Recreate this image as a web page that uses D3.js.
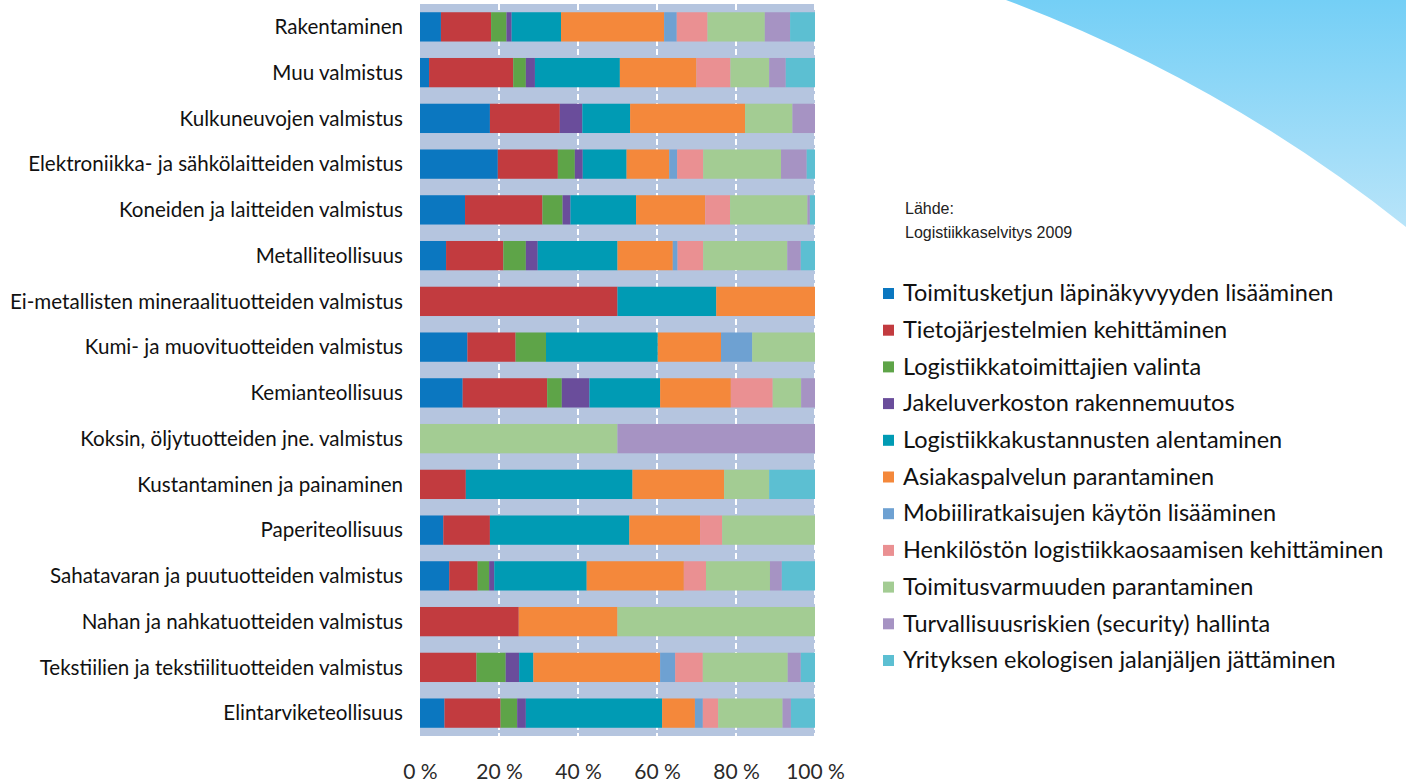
<!DOCTYPE html>
<html>
<head>
<meta charset="utf-8">
<script src="https://cdn.jsdelivr.net/npm/d3@7"></script>
<style>
  body { margin: 0; background: #fff; }
  svg { display: block; }
</style>
</head>
<body>
<div id="chart"></div>
<script>
(function() {

    var categories = [
        "Rakentaminen",
        "Muu valmistus",
        "Kulkuneuvojen valmistus",
        "Elektroniikka- ja sähkölaitteiden valmistus",
        "Koneiden ja laitteiden valmistus",
        "Metalliteollisuus",
        "Ei-metallisten mineraalituotteiden valmistus",
        "Kumi- ja muovituotteiden valmistus",
        "Kemianteollisuus",
        "Koksin, öljytuotteiden jne. valmistus",
        "Kustantaminen ja painaminen",
        "Paperiteollisuus",
        "Sahatavaran ja puutuotteiden valmistus",
        "Nahan ja nahkatuotteiden valmistus",
        "Tekstiilien ja tekstiilituotteiden valmistus",
        "Elintarviketeollisuus"
    ];

    var seriesNames = [
        "Toimitusketjun läpinäkyvyyden lisääminen",
        "Tietojärjestelmien kehittäminen",
        "Logistiikkatoimittajien valinta",
        "Jakeluverkoston rakennemuutos",
        "Logistiikkakustannusten alentaminen",
        "Asiakaspalvelun parantaminen",
        "Mobiiliratkaisujen käytön lisääminen",
        "Henkilöstön logistiikkaosaamisen kehittäminen",
        "Toimitusvarmuuden parantaminen",
        "Turvallisuusriskien (security) hallinta",
        "Yrityksen ekologisen jalanjäljen jättäminen"
    ];

    var colors = ["#0b77c0", "#c23b3f", "#5ea448", "#6a4d9b", "#009bb4", "#f4883b",
                  "#6ea1d2", "#ea9092", "#a3cc93", "#a693c3", "#5cbfd2"];

    // shares (%) per series, in category order
    var lapinakyvyys  = [5.3, 2.3, 17.7, 19.7, 11.4, 6.6, 0, 12, 10.8, 0, 0, 5.9, 7.4, 0, 0, 6.2];
    var tietojarj     = [12.7, 21.3, 17.7, 15.2, 19.6, 14.5, 50, 12.2, 21.4, 0, 11.6, 11.8, 7.2, 25, 14.3, 14.2];
    var toimittajat   = [3.9, 3.2, 0, 4.3, 5.1, 5.7, 0, 7.7, 3.7, 0, 0, 0, 2.9, 0, 7.4, 4.2];
    var jakeluverkko  = [1.3, 2.3, 5.7, 2.0, 2.0, 3.0, 0, 0, 7.0, 0, 0, 0, 1.3, 0, 3.4, 2.2];
    var kustannukset  = [12.5, 21.5, 12.1, 11.1, 16.6, 20.2, 25, 28.3, 17.9, 0, 42.2, 35.3, 23.4, 0, 3.6, 34.5];
    var asiakaspalvelu= [26.1, 19.4, 29.1, 10.8, 17.5, 14.0, 25, 16, 17.9, 0, 23.2, 17.9, 24.6, 25, 32.1, 8.3];
    var mobiili       = [3.2, 0, 0, 2.0, 0, 1.2, 0, 7.9, 0, 0, 0, 0, 0, 0, 3.8, 2.0];
    var henkilosto    = [7.8, 8.6, 0, 6.6, 6.3, 6.5, 0, 0, 10.6, 0, 0, 5.6, 5.6, 0, 7.0, 3.9];
    var toimitusvarm  = [14.5, 9.8, 12.0, 19.7, 19.6, 21.3, 0, 15.9, 7.2, 50, 11.4, 23.5, 16.2, 50, 21.5, 16.3];
    var turvallisuus  = [6.4, 4.2, 5.7, 6.5, 0.6, 3.4, 0, 0, 3.5, 50, 0, 0, 3.0, 0, 3.3, 2.1];
    var ekologia      = [6.3, 7.4, 0, 2.1, 1.3, 3.6, 0, 0, 0, 0, 11.6, 0, 8.4, 0, 3.6, 6.1];

    var seriesValues = [lapinakyvyys, tietojarj, toimittajat, jakeluverkko, kustannukset,
                        asiakaspalvelu, mobiili, henkilosto, toimitusvarm, turvallisuus, ekologia];

    var tickValues = [0, 0.2, 0.4, 0.6, 0.8, 1];
    var tickLabels = ["0 %", "20 %", "40 %", "60 %", "80 %", "100 %"];

    var W = 1406, H = 784;
    var plot = {left: 420, right: 815, top: 4, bottom: 736};

    var svg = d3.select("#chart").append("svg")
        .attr("width", W)
        .attr("height", H);

    // blue decoration top right
    var grad = svg.append("defs").append("linearGradient")
        .attr("id", "sky").attr("x1", 0).attr("y1", 0).attr("x2", 0).attr("y2", 1);
    grad.append("stop").attr("offset", "0%").attr("stop-color", "#74cff6");
    grad.append("stop").attr("offset", "100%").attr("stop-color", "#b8e4f9");

    svg.append("path")
        .attr("d", "M1006,0 Q1224,82 1406,227 L1406,0 Z")
        .attr("fill", "url(#sky)");

    // table of rows for the stack
    var rows = categories.map(function(c, i) {
        var r = {category: c};
        seriesNames.forEach(function(s, j) { r[s] = seriesValues[j][i]; });
        return r;
    });

    var stack = d3.stack()
        .keys(seriesNames)
        .offset(d3.stackOffsetExpand);
    var layers = stack(rows);

    var x = d3.scaleLinear()
        .domain([0, 1])
        .range([plot.left, plot.right]);

    var y = d3.scaleBand()
        .domain(categories)
        .range([plot.top, plot.bottom])
        .paddingInner(0.36)
        .paddingOuter(0.18);

    var color = d3.scaleOrdinal()
        .domain(seriesNames)
        .range(colors);

    // plot background
    svg.append("rect")
        .attr("x", plot.left)
        .attr("y", plot.top)
        .attr("width", plot.right - plot.left)
        .attr("height", plot.bottom - plot.top)
        .attr("fill", "#b5c5df");

    // dashed white grid
    svg.append("g")
        .selectAll("line")
        .data(tickValues.slice(1))
        .enter().append("line")
        .attr("x1", function(d) { return x(d); })
        .attr("x2", function(d) { return x(d); })
        .attr("y1", plot.top)
        .attr("y2", plot.bottom)
        .attr("stroke", "#fff")
        .attr("stroke-width", 2)
        .attr("stroke-dasharray", "6,3");

    // bars
    svg.append("g")
        .selectAll("g")
        .data(layers)
        .enter().append("g")
        .attr("fill", function(d) { return color(d.key); })
        .selectAll("rect")
        .data(function(d) { return d; })
        .enter().append("rect")
        .attr("x", function(d) { return x(d[0]); })
        .attr("y", function(d) { return y(d.data.category); })
        .attr("width", function(d) { return Math.max(0, x(d[1]) - x(d[0])); })
        .attr("height", y.bandwidth());

    // category labels
    svg.append("g")
        .attr("font-family", "Lato, 'Open Sans', sans-serif")
        .attr("font-size", 20.6)
        .attr("fill", "#111")
        .attr("text-anchor", "end")
        .selectAll("text")
        .data(categories)
        .enter().append("text")
        .attr("x", plot.left - 17)
        .attr("y", function(d) { return y(d) + y.bandwidth() / 2; })
        .attr("dy", "0.35em")
        .text(function(d) { return d; });

    // x axis labels
    var xAxis = d3.axisBottom(x)
        .tickValues(tickValues)
        .tickSize(0)
        .tickPadding(0)
        .tickFormat(function(d, i) { return tickLabels[i]; });

    var gx = svg.append("g")
        .attr("transform", "translate(0," + 764 + ")")
        .call(xAxis);
    gx.select(".domain").remove();
    gx.selectAll("text")
        .attr("font-family", "Lato, 'Open Sans', sans-serif")
        .attr("font-size", 21)
        .attr("fill", "#2a2a2a");

    // source
    var src = svg.append("g")
        .attr("font-family", "'Liberation Sans', Arial, sans-serif")
        .attr("font-size", 16)
        .attr("fill", "#222");
    src.append("text").attr("x", 905).attr("y", 214).text("Lähde:");
    src.append("text").attr("x", 905).attr("y", 238).text("Logistiikkaselvitys 2009");

    // legend
    var legend = svg.append("g")
        .attr("font-family", "Lato, 'Open Sans', sans-serif")
        .attr("font-size", 23.5)
        .attr("fill", "#111")
        .selectAll("g")
        .data(seriesNames)
        .enter().append("g")
        .attr("transform", function(d, i) { return "translate(883," + (293 + i * 36.7) + ")"; });

    legend.append("rect")
        .attr("x", 0)
        .attr("y", -5)
        .attr("width", 11)
        .attr("height", 11)
        .attr("fill", color);

    legend.append("text")
        .attr("x", 20)
        .attr("y", 0)
        .attr("dy", "0.35em")
        .text(function(d) { return d; });

})();
</script>
</body>
</html>
